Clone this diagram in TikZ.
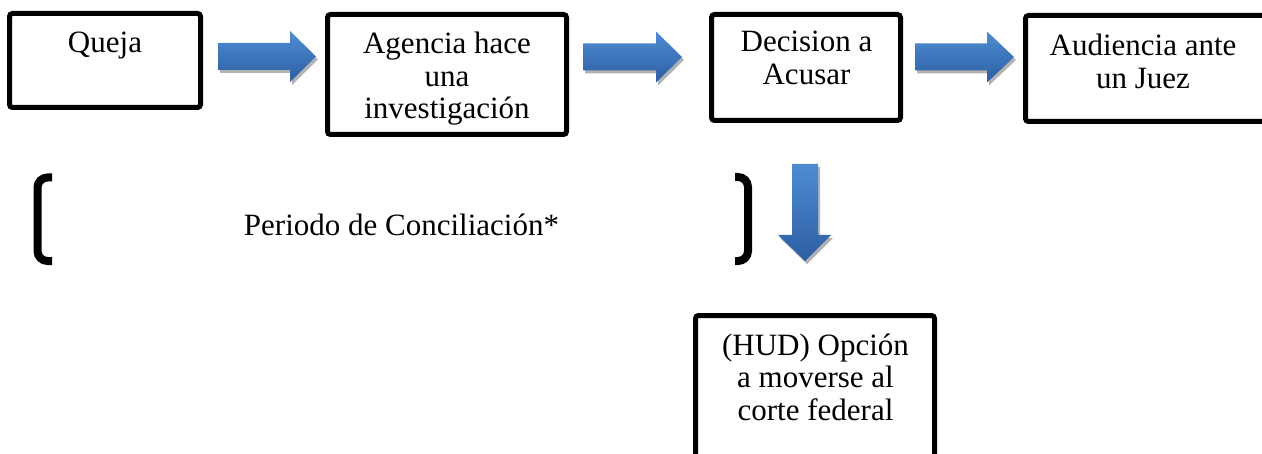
\documentclass[tikz,border=0pt]{standalone}
\usepackage{fontspec}
\setmainfont{Liberation Serif}
\usetikzlibrary{shadows,fit}
\definecolor{arrtop}{RGB}{80,140,210}
\definecolor{arrbot}{RGB}{44,94,162}
\tikzset{
  boxframe/.style={draw=black, line width=2.5pt, rounded corners=1.5pt, inner sep=0pt},
  boxtext/.style={anchor=north, align=center, inner sep=0pt, font=\fontsize{15.5}{16.25}\selectfont},
  plaintext/.style={inner sep=0pt, font=\fontsize{15.5}{16.25}\selectfont},
  blockarrow/.style={top color=arrtop, bottom color=arrbot, draw=none,
    drop shadow={opacity=0.3, shadow xshift=1pt, shadow yshift=-1.5pt, fill=black}},
  bracketline/.style={line width=4pt, rounded corners=5pt, line cap=butt},
}
\newcommand\rightblock[4]{%
  \path[blockarrow] (#1,#4-13.5) -- (#2,#4-13.5) -- (#2,#4-25.5) -- (#3,#4)
    -- (#2,#4+25.5) -- (#2,#4+13.5) -- (#1,#4+13.5) -- cycle;}
\begin{document}
\begin{tikzpicture}[x=0.5pt,y=-0.5pt]
\useasboundingbox (0,0) rectangle (1262,454);

% boxes
\node[boxframe, fit={(9.5,13.5) (200.5,107.5)}] (queja) {};
\node[boxframe, fit={(327.5,14.5) (566.5,134.5)}] (agencia) {};
\node[boxframe, fit={(711.5,14.5) (900.5,120.5)}] (decision) {};
\node[boxframe, fit={(1025.5,15.5) (1275,121.5)}] (audiencia) {};
\node[boxframe, fit={(695.5,315.5) (934.5,480)}] (hud) {};

% texts
\node[boxtext] (quejaT) at (105,31.5) {Queja};
\node[boxtext] (agenciaT) at (447,32) {Agencia hace\\una\\investigación};
\node[boxtext] (decisionT) at (806.5,31) {Decision a\\Acusar};
\node[boxtext] (audienciaT) at (1143,34) {Audiencia ante\\un Juez};
\node[boxtext] (hudT) at (815.5,333.5) {(HUD) Opción\\a moverse al\\corte federal};
\node[plaintext, anchor=base] (periodo) at (401.5,235) {Periodo de Conciliación*};

% block arrows
\rightblock{218}{290}{316}{56.5}
\rightblock{583}{656}{682}{57}
\rightblock{915}{987}{1014}{57}
\path[blockarrow] (792,164) -- (818,164) -- (818,235) -- (831,235) -- (805,261)
  -- (778,235) -- (792,235) -- cycle;

% brackets
\draw[bracketline] (52,177.5) -- (37.5,177.5) -- (37.5,261) -- (52,261);
\draw[bracketline] (735,177) -- (748,177) -- (748,261) -- (735,261);
\end{tikzpicture}
\end{document}
